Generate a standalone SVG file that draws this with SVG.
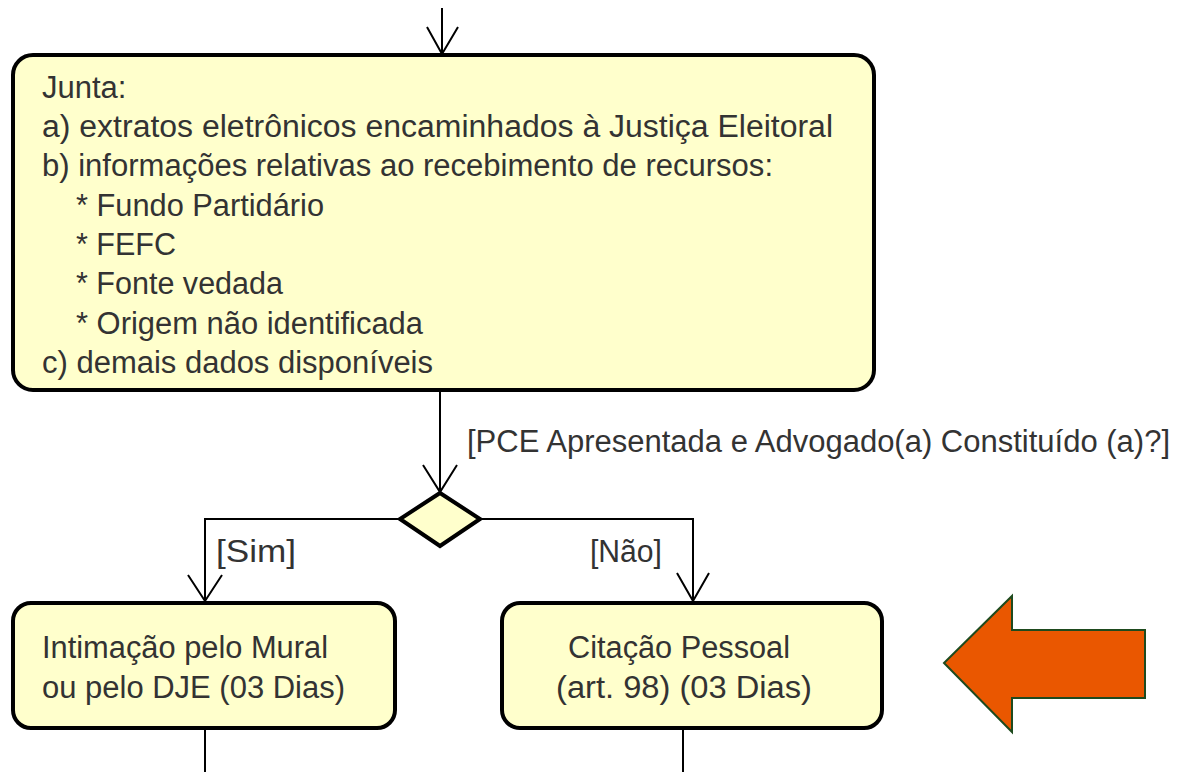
<svg xmlns="http://www.w3.org/2000/svg" width="1177" height="772" viewBox="0 0 1177 772">
<style>
.box{fill:#FFFFCC;stroke:#000;stroke-width:4}
.t{font-family:"Liberation Sans",Arial,sans-serif;font-size:31px;fill:#333}
.c{fill:none;stroke:#000;stroke-width:2}
</style>
<rect width="1177" height="772" fill="#fff"/>
<g id="connectors">
<line class="c" x1="442" y1="8" x2="442" y2="55"/>
<polyline class="c" points="427,27 442,54 458,27"/>
<line class="c" x1="440" y1="390" x2="440" y2="493"/>
<polyline class="c" points="423,465 440,492 457,465"/>
<polyline class="c" points="400,519 205,519 205,603"/>
<polyline class="c" points="188,575 205,601 222,575"/>
<polyline class="c" points="480,519 693,519 693,603"/>
<polyline class="c" points="677,573 693,601 709,573"/>
<line class="c" x1="205" y1="728" x2="205" y2="772"/>
<line class="c" x1="683" y1="728" x2="683" y2="772"/>
<text class="t" x="467" y="452" textLength="703" lengthAdjust="spacingAndGlyphs">[PCE Apresentada e Advogado(a) Constituído (a)?]</text>
<text class="t" x="216" y="562" textLength="80" lengthAdjust="spacingAndGlyphs">[Sim]</text>
<text class="t" x="590" y="562" textLength="72" lengthAdjust="spacingAndGlyphs">[Não]</text>
</g>
<g id="junta">
<rect class="box" x="13" y="55" width="861" height="335" rx="20"/>
<text class="t" x="42" y="98">Junta:</text>
<text class="t" x="42" y="137" textLength="791" lengthAdjust="spacingAndGlyphs">a) extratos eletrônicos encaminhados à Justiça Eleitoral</text>
<text class="t" x="42" y="176" textLength="731" lengthAdjust="spacingAndGlyphs">b) informações relativas ao recebimento de recursos:</text>
<text class="t" x="76" y="216" textLength="248" lengthAdjust="spacingAndGlyphs">* Fundo Partidário</text>
<text class="t" x="76" y="255" textLength="100" lengthAdjust="spacingAndGlyphs">* FEFC</text>
<text class="t" x="76" y="294" textLength="207" lengthAdjust="spacingAndGlyphs">* Fonte vedada</text>
<text class="t" x="76" y="334" textLength="347" lengthAdjust="spacingAndGlyphs">* Origem não identificada</text>
<text class="t" x="42" y="373" textLength="391" lengthAdjust="spacingAndGlyphs">c) demais dados disponíveis</text>
</g>
<g id="decisao">
<polygon points="440,493 480,519 440,546 400,519" fill="#FFFFCC" stroke="#000" stroke-width="4"/>
</g>
<g id="intimacao">
<rect class="box" x="13" y="603" width="382" height="125" rx="18"/>
<text class="t" x="42" y="658" textLength="286" lengthAdjust="spacingAndGlyphs">Intimação pelo Mural</text>
<text class="t" x="42" y="698" textLength="303" lengthAdjust="spacingAndGlyphs">ou pelo DJE (03 Dias)</text>
</g>
<g id="citacao">
<rect class="box" x="502" y="603" width="380" height="125" rx="18"/>
<text class="t" x="568" y="658" textLength="222" lengthAdjust="spacingAndGlyphs">Citação Pessoal</text>
<text class="t" x="556" y="698" textLength="256" lengthAdjust="spacingAndGlyphs">(art. 98) (03 Dias)</text>
</g>
<g id="seta">
<polygon points="944,663 1012,596 1012,630 1145,630 1145,698 1012,698 1012,732" fill="#EA5700" stroke="#1E4A1E" stroke-width="2"/>
</g>
</svg>
